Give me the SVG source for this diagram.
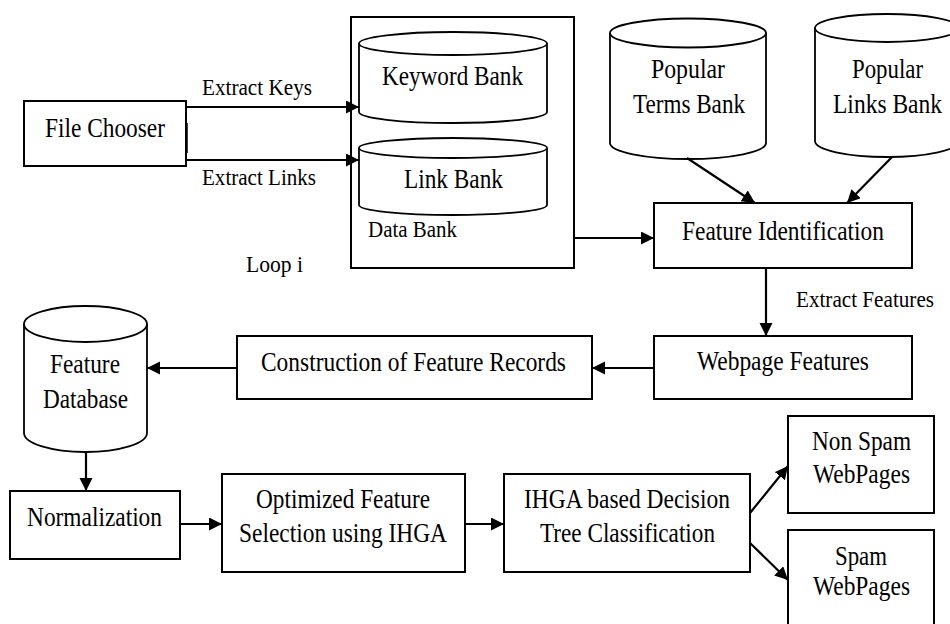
<svg xmlns="http://www.w3.org/2000/svg" width="950" height="624" viewBox="0 0 950 624">
<defs>
<style>
.box{fill:#fff;stroke:#000;stroke-width:2}
.cyl{fill:#fff;stroke:#000;stroke-width:1.8}
.t{font-family:"Liberation Serif","Times New Roman",serif;font-size:27px;fill:#000;text-anchor:middle}
.l{font-family:"Liberation Serif","Times New Roman",serif;font-size:23px;fill:#000}
.c{fill:none;stroke:#000;stroke-width:2.2}
</style>
<marker id="ah" markerUnits="userSpaceOnUse" markerWidth="14" markerHeight="14" refX="13" refY="6.5" orient="auto">
<path d="M0,0 L13,6.5 L0,13 Z" fill="#000"/>
</marker>
</defs>
<rect width="950" height="624" fill="#fff"/>

<g id="data-bank">
<rect class="box" x="351" y="17" width="223" height="251"/>
<text class="l" x="368" y="237" textLength="89" lengthAdjust="spacingAndGlyphs">Data Bank</text>
</g>
<g id="file-chooser">
<rect class="box" x="24" y="101" width="162" height="65"/>
<line x1="187" y1="123" x2="187" y2="153" stroke="#000" stroke-width="1.5"/>
<text class="t" x="105" y="137" textLength="120" lengthAdjust="spacingAndGlyphs">File Chooser</text>
</g>
<g id="keyword-bank">
<path class="cyl" d="M359,43.5 V112 A94,11 0 0,0 547,112 V43.5"/>
<ellipse class="cyl" cx="453" cy="43.5" rx="94" ry="11.5"/>
<text class="t" x="452.5" y="85" textLength="141" lengthAdjust="spacingAndGlyphs">Keyword Bank</text>
</g>
<g id="link-bank">
<path class="cyl" d="M359,148 V205 A94,10 0 0,0 547,205 V148"/>
<ellipse class="cyl" cx="453" cy="148" rx="94" ry="10"/>
<text class="t" x="453.5" y="188" textLength="99" lengthAdjust="spacingAndGlyphs">Link Bank</text>
</g>
<g id="popular-terms-bank">
<path class="cyl" d="M610,33 V143 A78,16 0 0,0 766,143 V33"/>
<ellipse class="cyl" cx="688" cy="33" rx="78" ry="14.5"/>
<text class="t" x="688" y="78" textLength="74" lengthAdjust="spacingAndGlyphs">Popular</text>
<text class="t" x="689" y="113" textLength="112" lengthAdjust="spacingAndGlyphs">Terms Bank</text>
</g>
<g id="popular-links-bank">
<path class="cyl" d="M815,28 V141 A72,16 0 0,0 959,141 V28"/>
<ellipse class="cyl" cx="887" cy="28" rx="72" ry="14"/>
<text class="t" x="887.5" y="78" textLength="71" lengthAdjust="spacingAndGlyphs">Popular</text>
<text class="t" x="887.5" y="113" textLength="109" lengthAdjust="spacingAndGlyphs">Links Bank</text>
</g>
<g id="feature-identification">
<rect class="box" x="654" y="203" width="258" height="65"/>
<text class="t" x="783" y="240" textLength="202" lengthAdjust="spacingAndGlyphs">Feature Identification</text>
</g>
<g id="webpage-features">
<rect class="box" x="654" y="336" width="258" height="63"/>
<text class="t" x="783" y="370" textLength="172" lengthAdjust="spacingAndGlyphs">Webpage Features</text>
</g>
<g id="construction">
<rect class="box" x="237" y="336" width="355" height="63"/>
<text class="t" x="413.5" y="371" textLength="305" lengthAdjust="spacingAndGlyphs">Construction of Feature Records</text>
</g>
<g id="feature-database">
<path class="cyl" d="M24,324 V433 A61.5,19 0 0,0 147,433 V324"/>
<ellipse class="cyl" cx="85.5" cy="324" rx="61.5" ry="18"/>
<text class="t" x="85" y="373" textLength="70" lengthAdjust="spacingAndGlyphs">Feature</text>
<text class="t" x="85.5" y="408" textLength="85" lengthAdjust="spacingAndGlyphs">Database</text>
</g>
<g id="normalization">
<rect class="box" x="10" y="491" width="170" height="68"/>
<text class="t" x="94.5" y="526" textLength="135" lengthAdjust="spacingAndGlyphs">Normalization</text>
</g>
<g id="optimized-feature-selection">
<rect class="box" x="222" y="474" width="243" height="98"/>
<text class="t" x="343" y="508" textLength="174" lengthAdjust="spacingAndGlyphs">Optimized Feature</text>
<text class="t" x="343" y="542" textLength="208" lengthAdjust="spacingAndGlyphs">Selection using IHGA</text>
</g>
<g id="ihga-classification">
<rect class="box" x="504" y="474" width="246" height="98"/>
<text class="t" x="627" y="508" textLength="206" lengthAdjust="spacingAndGlyphs">IHGA based Decision</text>
<text class="t" x="627.5" y="542" textLength="175" lengthAdjust="spacingAndGlyphs">Tree Classification</text>
</g>
<g id="non-spam">
<rect class="box" x="788" y="416" width="146" height="97"/>
<text class="t" x="861.5" y="450" textLength="99" lengthAdjust="spacingAndGlyphs">Non Spam</text>
<text class="t" x="861.5" y="483" textLength="97" lengthAdjust="spacingAndGlyphs">WebPages</text>
</g>
<g id="spam">
<rect class="box" x="788" y="530" width="146" height="110"/>
<text class="t" x="861" y="565" textLength="52" lengthAdjust="spacingAndGlyphs">Spam</text>
<text class="t" x="861.5" y="595" textLength="97" lengthAdjust="spacingAndGlyphs">WebPages</text>
</g>

<g id="connectors">
<path class="c" d="M186,107 H359" marker-end="url(#ah)"/>
<path class="c" d="M186,160 H359" marker-end="url(#ah)"/>
<path class="c" d="M574,238 H654" marker-end="url(#ah)"/>
<path class="c" d="M687,158 L755,203" marker-end="url(#ah)"/>
<path class="c" d="M892,157 L847,203" marker-end="url(#ah)"/>
<path class="c" d="M766,268 V336" marker-end="url(#ah)"/>
<path class="c" d="M654,368 H592" marker-end="url(#ah)"/>
<path class="c" d="M237,368 H147" marker-end="url(#ah)"/>
<path class="c" d="M86,452 V491" marker-end="url(#ah)"/>
<path class="c" d="M180,524 H222" marker-end="url(#ah)"/>
<path class="c" d="M465,524 H504" marker-end="url(#ah)"/>
<path class="c" d="M750,513 L788,466" marker-end="url(#ah)"/>
<path class="c" d="M750,543 L788,580" marker-end="url(#ah)"/>
<text class="l" x="202" y="95" textLength="110" lengthAdjust="spacingAndGlyphs">Extract Keys</text>
<text class="l" x="202" y="185" textLength="114" lengthAdjust="spacingAndGlyphs">Extract Links</text>
<text class="l" x="246" y="272" textLength="57" lengthAdjust="spacingAndGlyphs">Loop i</text>
<text class="l" x="796" y="307" textLength="138" lengthAdjust="spacingAndGlyphs">Extract Features</text>
</g>
</svg>
